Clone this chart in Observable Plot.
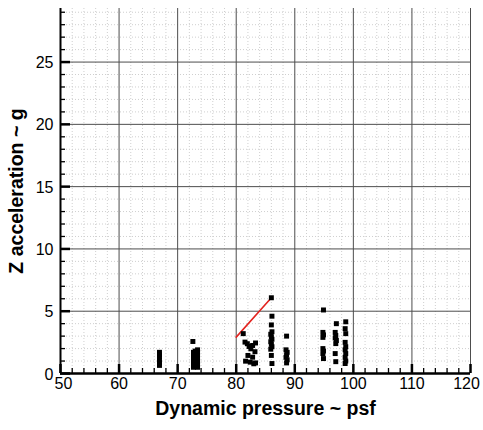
<!DOCTYPE html>
<html><head><meta charset="utf-8">
<script src="https://cdn.jsdelivr.net/npm/d3@7"></script>
<script src="https://cdn.jsdelivr.net/npm/@observablehq/plot@0.6"></script>
<style>body{margin:0;background:#fff}</style>
</head><body><div id="chart"></div>
<script>
// Flight-test points: dynamic pressure (psf) vs Z acceleration (g)
const pressure = [
  66.9,66.9,66.9,66.9,66.9,66.9,
  72.6,72.7,72.7,72.7,72.7,72.7,72.7,72.7,73.0,73.0,73.0,73.0,73.0,73.0,73.4,73.4,73.4,73.4,73.4,73.4,73.4,
  81.2,81.5,81.9,82.2,82.8,82.5,82.0,82.8,81.6,82.4,83.0,83.3,83.2,83.3,
  86.0,86.1,86.0,86.1,85.9,86.0,86.1,85.9,86.0,86.1,85.9,86.0,86.1,
  88.6,88.5,88.7,88.6,88.5,88.7,88.6,
  94.9,94.8,94.9,94.8,94.8,94.9,94.8,94.9,
  97.1,96.9,97.0,96.9,97.1,97.0,96.9,97.0,
  98.7,98.6,98.7,98.6,98.7,98.6,98.7,98.6,98.7,98.6
];
const accel = [
  1.7,1.5,1.35,1.05,0.85,0.65,
  2.57,1.7,1.5,1.3,1.1,0.9,0.7,0.5,1.8,1.6,1.2,1.0,0.8,0.6,1.9,1.7,1.4,1.1,0.9,0.7,0.5,
  3.2,2.52,2.39,2.17,2.25,1.98,1.45,1.31,0.99,0.91,0.78,2.45,1.75,0.85,
  6.08,4.6,3.9,3.35,3.15,2.95,2.75,2.55,2.35,2.15,1.95,1.45,0.8,
  3.0,1.9,1.7,1.5,1.3,1.1,0.85,
  5.1,3.3,3.1,2.9,2.0,1.8,1.6,1.2,
  4.0,3.3,3.05,2.85,2.65,2.4,1.6,0.95,
  4.15,3.6,3.2,2.5,2.15,1.9,1.6,1.3,1.0,0.8
];
const redPressure = [80, 86];
const redAccel = [2.92, 6.08];
const xMajor = [50, 60, 70, 80, 90, 100, 110, 120];
const yMajor = [0, 5, 10, 15, 20, 25];
const xMinor = d3.range(50, 120, 2).filter(v => v % 10 !== 0);
const yMinor = d3.range(0, 30, 1).filter(v => v % 5 !== 0);
const xTitle = "Dynamic pressure ~ psf";
const yTitle = "Z acceleration ~ g";

const W = 483, H = 430, mL = 60, mR = 13, mT = 8, mB = 57;
const plotW = W - mL - mR, plotH = H - mT - mB;
const points = pressure.map((q, i) => ({q, g: accel[i]}));
const redLine = redPressure.map((q, i) => ({q, g: redAccel[i]}));
const xLabelOpts = {tickSize: 0, tickPadding: 4, fontSize: 16, label: null};

const chart = Plot.plot({
  width: W, height: H,
  marginLeft: mL, marginRight: mR, marginTop: mT, marginBottom: mB,
  style: {fontFamily: "'Liberation Sans', Arial, sans-serif", fontSize: "16px", color: "#000", background: "#fff"},
  x: {domain: [50, 120]},
  y: {domain: [0, 29.3]},
  marks: [
    Plot.ruleX(xMinor, {stroke: "#cfcfcf", strokeDasharray: "1,2"}),
    Plot.ruleY(yMinor, {stroke: "#cfcfcf", strokeDasharray: "1,2"}),
    Plot.ruleX(xMajor.slice(1), {stroke: "#4d4d4d"}),
    Plot.ruleY(yMajor.slice(1), {stroke: "#4d4d4d"}),
    Plot.tickX(xMinor, {insetTop: plotH - 5, stroke: "#000", strokeWidth: 1.3}),
    Plot.tickX(xMajor, {insetTop: plotH - 9, stroke: "#000", strokeWidth: 2.5}),
    Plot.tickY(yMinor, {insetRight: plotW - 5, stroke: "#000", strokeWidth: 1.3}),
    Plot.tickY(yMajor, {insetRight: plotW - 10, stroke: "#000", strokeWidth: 2.5}),
    Plot.ruleX([50], {stroke: "#000", strokeWidth: 2}),
    Plot.ruleY([0], {stroke: "#000", strokeWidth: 2.5}),
    Plot.axisX(xMajor.slice(0, 1), {...xLabelOpts, dx: 3}),
    Plot.axisX(xMajor.slice(1, -1), xLabelOpts),
    Plot.axisX(xMajor.slice(-1), {...xLabelOpts, dx: -4}),
    Plot.axisY(yMajor, {tickSize: 0, tickPadding: 7, fontSize: 16, label: null, dy: 1}),
    Plot.text([xTitle], {frameAnchor: "bottom", dy: 41, fontWeight: "bold", fontSize: 19.5}),
    Plot.text([yTitle], {frameAnchor: "left", textAnchor: "middle", rotate: -90, dx: -44, fontWeight: "bold", fontSize: 19.5}),
    Plot.line(redLine, {x: "q", y: "g", stroke: "#e3231f", strokeWidth: 1.6}),
    Plot.dot(points, {x: "q", y: "g", symbol: "square", r: 2.8, fill: "#000", stroke: null})
  ]
});
document.getElementById("chart").appendChild(chart);
</script>
</body></html>
